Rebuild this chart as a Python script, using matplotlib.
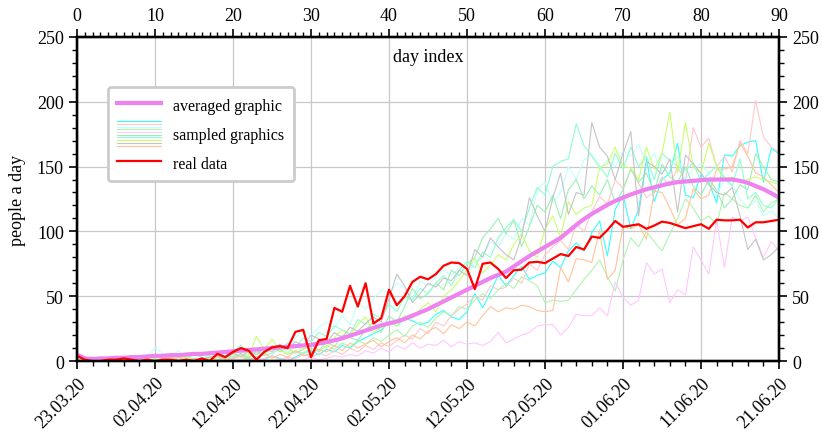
import matplotlib
matplotlib.use('Agg')
import matplotlib.pyplot as plt
from matplotlib.lines import Line2D
from matplotlib.legend_handler import HandlerBase
from matplotlib.ticker import MultipleLocator

plt.rcParams['font.family'] = ['Liberation Serif', 'DejaVu Serif']

days = list(range(91))
date_labels = ['23.03.20', '02.04.20', '12.04.20', '22.04.20', '02.05.20',
               '12.05.20', '22.05.20', '01.06.20', '11.06.20', '21.06.20']

real = [4, 1, 0, 0, 1, 1, 2, 1, 0, 1,
        0, 1, 1, 0, 1, 0, 2, 0, 5.5, 3,
        7, 10, 8, 1, 7, 10.5, 11.5, 10, 22.5, 24,
        3, 16, 17, 41, 38, 58, 42, 60, 29, 33,
        55, 43, 50, 61, 65, 63, 67, 73.5, 76, 75.5,
        71, 55.5, 75, 76, 71, 64, 70, 70.5, 76, 76.5,
        75.5, 79, 82.5, 81, 88, 86, 96, 95, 101, 108,
        103.5, 104.5, 105.5, 102, 104.5, 107.5, 106.5, 104.5, 102.5, 104,
        105.5, 102, 109, 108.5, 108.5, 109, 103, 107, 107, 108,
        109]

averaged = [5, 2, 1.5, 2, 2, 2.5, 2.5, 3, 3, 3.5,
            4, 4, 4.5, 4.5, 5, 5.5, 5.5, 6, 6.5, 7,
            7.5, 8, 8.5, 9, 9.5, 10, 10.5, 11, 11.5, 12,
            12.5, 13.5, 14.5, 16, 17.5, 19.5, 21.5, 23.5, 25.5, 27.5,
            29, 30.5, 32.5, 35, 37.5, 40, 43, 46, 49, 52,
            55, 58, 61, 64, 66.5, 69, 73, 77, 81, 84.5,
            88, 91.5, 95, 100, 105, 109.5, 113.5, 117, 120.5, 123.5,
            126, 128.5, 130.5, 132.5, 134, 135.5, 137, 138, 138.5, 139,
            139.5, 140, 140, 140, 140, 139, 137.5, 135, 132.5, 129.5,
            126]

s_cyan = [3, 0, 1, 0, 0, 2, 1, 0, 3, 1,
          0, 2, 1, 0, 1, 0, 2, 1, 0, 3,
          1, 0, 2, 0, 1, 4, 2, 0, 3, 6,
          8, 5, 9, 7, 12, 10, 15, 18, 21, 24,
          30, 27, 33, 31, 28, 30, 36, 39, 34, 32,
          38, 52, 41, 53, 66, 58, 66, 73, 63, 66,
          68, 77, 72, 85, 91, 85, 99, 108, 81, 117,
          128, 102, 117, 156, 123, 140, 145, 168, 128, 126,
          144, 138, 122, 159, 158, 166, 169, 170, 138, 164,
          160]
s_silver = [1, 3, 0, 1, 2, 0, 1, 0, 2, 1,
            0, 1, 3, 1, 0, 2, 1, 3, 4, 2,
            6, 3, 8, 5, 10, 7, 13, 9, 15, 12,
            20, 17, 14, 22, 18, 26, 23, 29, 34, 30,
            48, 67, 58, 45, 52, 60, 57, 64, 62, 70,
            66, 86, 80, 95, 88, 82, 78, 96, 126, 112,
            100, 126, 145, 113, 130, 128, 184, 165, 158, 140,
            160, 177, 112, 154, 150, 144, 156, 115, 159, 152,
            145, 136, 130, 128, 134, 112, 86, 94, 78, 82,
            88]
s_aqua = [0, 2, 1, 0, 3, 1, 0, 2, 1, 0,
          2, 4, 1, 3, 2, 5, 3, 2, 6, 4,
          8, 12, 6, 9, 5, 11, 8, 14, 10, 18,
          15, 22, 19, 27, 24, 21, 32, 28, 36, 33,
          44, 38, 50, 47, 56, 52, 60, 66, 58, 70,
          77, 72, 84, 80, 95, 103, 109, 100, 118, 134,
          128, 150, 154, 156, 183, 166, 158, 150, 142, 160,
          148, 165, 150, 158, 140, 160, 155, 150, 147, 153,
          138, 145, 150, 142, 135, 156, 125, 130, 120, 118,
          126]
s_yellowgreen = [2, 0, 1, 0, 2, 1, 0, 1, 0, 2,
                 1, 0, 2, 1, 3, 1, 0, 2, 4, 3,
                 5, 8, 4, 19, 9, 17, 8, 6, 11, 9,
                 12, 15, 10, 18, 24, 20, 28, 34, 22, 26,
                 30, 27, 35, 33, 40, 45, 38, 50, 55, 62,
                 70, 79, 68, 74, 82, 78, 90, 98, 85, 80,
                 102, 112, 95, 123, 113, 118, 120, 149, 152, 165,
                 150, 149, 140, 165, 148, 160, 192, 145, 184, 150,
                 145, 168, 150, 140, 142, 138, 140, 142, 140, 138,
                 136]
s_pink = [4, 1, 0, 2, 0, 1, 0, 1, 0, 0,
          1, 0, 2, 0, 1, 0, 2, 1, 0, 1,
          2, 1, 3, 0, 2, 4, 1, 3, 2, 5,
          3, 6, 4, 8, 5, 10, 7, 12, 9, 14,
          11, 16, 20, 17, 25, 21, 30, 27, 35, 40,
          44, 50, 47, 58, 55, 57, 64, 60, 75, 70,
          82, 88, 93, 86, 106, 100, 115, 127, 121, 140,
          133, 148, 137, 126, 130, 142, 135, 150, 138, 180,
          165, 172, 150, 158, 146, 170, 160, 201, 173, 165,
          161]
s_peach = [5, 2, 0, 3, 1, 0, 2, 1, 0, 1,
           0, 2, 1, 3, 0, 1, 2, 0, 3, 1,
           2, 4, 1, 3, 6, 2, 5, 3, 8, 4,
           6, 9, 7, 12, 8, 14, 10, 13, 16, 11,
           15, 18, 14, 20, 17, 23, 26, 21, 28, 25,
           30, 27, 35, 42, 38, 41, 40, 43, 42, 39,
           38, 39, 72, 61, 79, 78, 76, 101, 63, 70,
           104, 102, 105, 94, 131, 130, 118, 105, 110, 133,
           125, 128, 148, 148, 150, 168, 158, 145, 142, 136,
           130]
s_lightgreen = [1, 0, 2, 0, 1, 3, 0, 1, 2, 0,
                1, 2, 0, 3, 1, 0, 2, 4, 1, 3,
                2, 5, 3, 7, 4, 6, 9, 5, 8, 6,
                10, 7, 12, 9, 14, 11, 16, 13, 18, 15,
                20, 24, 19, 27, 30, 26, 33, 38, 35, 42,
                40, 47, 52, 48, 55, 60, 56, 65, 62, 58,
                45, 47, 46, 47, 55, 63, 70, 78, 65, 54,
                78, 95, 88, 100, 92, 85, 98, 110, 125, 118,
                108, 112, 105, 130, 125, 120, 118, 128, 115, 122,
                125]
s_lightcyan = [0, 1, 0, 2, 1, 0, 3, 1, 0, 4,
               10, 6, 3, 8, 2, 4, 1, 5, 3, 2,
               4, 2, 6, 3, 9, 5, 12, 7, 18, 24,
               20, 26, 30, 25, 35, 28, 45, 40, 48, 55,
               52, 60, 57, 48, 62, 58, 65, 70, 66, 72,
               68, 76, 80, 92, 88, 98, 94, 110, 105, 132,
               138, 122, 130, 150, 140, 155, 160, 148, 155, 150,
               162, 158, 167, 152, 160, 145, 150, 158, 140, 148,
               152, 145, 128, 140, 135, 125, 118, 124, 112, 116,
               110]
s_green = [0, 1, 3, 1, 0, 2, 1, 0, 2, 1,
           0, 2, 1, 0, 3, 1, 2, 0, 1, 4,
           3, 6, 2, 8, 5, 12, 7, 10, 6, 9,
           13, 8, 15, 11, 20, 18, 16, 24, 30, 22,
           35, 30, 42, 56, 48, 52, 60, 55, 70, 66,
           75, 80, 95, 102, 110, 98, 109, 88, 104, 120,
           115, 128, 110, 132, 140, 125, 135, 128, 140, 122,
           132, 148, 138, 145, 130, 152, 142, 138, 150, 135,
           128, 140, 132, 118, 125, 136, 132, 160, 150, 140,
           138]
s_violet = [3, 1, 0, 2, 0, 0, 1, 0, 0, 1,
            0, 0, 1, 0, 0, 1, 0, 0, 1, 0,
            1, 0, 0, 2, 1, 0, 1, 2, 0, 1,
            3, 1, 2, 4, 3, 5, 4, 8, 6, 10,
            7, 12, 9, 14, 10, 13, 12, 16, 11, 15,
            13, 14, 12, 15, 22, 14, 17, 20, 22, 27,
            28, 28, 20, 26, 36, 35, 35, 41, 35, 61,
            49, 43, 47, 76, 67, 71, 45, 55, 51, 88,
            78, 67, 109, 72, 111, 108, 111, 95, 80, 92,
            85]

sampled = [s_cyan, s_pink, s_lightcyan, s_lightgreen, s_violet,
           s_green, s_aqua, s_yellowgreen, s_silver, s_peach]
sampled_colors = ['#33ffff', '#ffc8c8', '#c0ffff', '#b0f5b0', '#ffc8ff',
                  '#9cf0b4', '#8cffd0', '#c8ff70', '#c4c4c4', '#ffc49a']


class SampledHandler(HandlerBase):
    def __init__(self, colors):
        super().__init__()
        self.colors = colors

    def create_artists(self, legend, orig_handle, xdescent, ydescent,
                       width, height, fontsize, trans):
        arts = []
        n = len(self.colors)
        for i, c in enumerate(self.colors):
            y = -ydescent + height * (1.25 - 1.5 * i / (n - 1))
            arts.append(Line2D([-xdescent, -xdescent + width], [y, y],
                               color=c, lw=0.8, transform=trans))
        return arts


class SampledDummy:
    pass


fig = plt.figure(figsize=(8.22, 4.35), dpi=100)
ax = fig.add_axes([0.0937, 0.1678, 0.854, 0.745])

for s, c in zip(sampled, sampled_colors):
    ax.plot(days, s, color=c, lw=0.8, zorder=2)
l_avg, = ax.plot(days, averaged, color='violet', lw=3, zorder=3)
l_real, = ax.plot(days, real, color='red', lw=1.6, zorder=4)

ax.set_xlim(0, 90)
ax.set_ylim(0, 250)
ax.set_xticks(range(0, 91, 10))
ax.set_xticklabels(date_labels, rotation=45, ha='right', rotation_mode='anchor')
ax.xaxis.set_minor_locator(MultipleLocator(2))
ax.yaxis.set_major_locator(MultipleLocator(50))
ax.yaxis.set_minor_locator(MultipleLocator(10))
ax.grid(True, which='major', color='#c8c8c8', lw=0.9)
ax.set_ylabel('people a day', fontsize=13, labelpad=8)
ax.text(0.5, 0.94, 'day index', transform=ax.transAxes, ha='center',
        va='center', fontsize=13)

ax_top = ax.twiny()
ax_top.set_xlim(0, 90)
ax_top.set_xticks(range(0, 91, 10))
ax_top.xaxis.set_minor_locator(MultipleLocator(1))

ax_right = ax.twinx()
ax_right.set_ylim(0, 250)
ax_right.yaxis.set_major_locator(MultipleLocator(50))
ax_right.yaxis.set_minor_locator(MultipleLocator(10))

for a in (ax, ax_top, ax_right):
    a.tick_params(which='major', length=6, width=1.2, labelsize=13)
    a.tick_params(which='minor', length=3.5, width=1)
    for sp in a.spines.values():
        sp.set_linewidth(1.6)

leg = ax.legend([l_avg, SampledDummy(), l_real],
                ['averaged graphic', 'sampled graphics', 'real data'],
                handler_map={SampledDummy: SampledHandler(sampled_colors)},
                loc='upper left', bbox_to_anchor=(0.044, 0.846),
                borderaxespad=0, fontsize=11.5, handlelength=2.7,
                handleheight=1.2, labelspacing=0.7, handletextpad=0.8,
                borderpad=0.6, fancybox=True, framealpha=1)
leg.get_frame().set_edgecolor('#cccccc')
leg.get_frame().set_linewidth(2)

fig.savefig('out.png', dpi=100)
